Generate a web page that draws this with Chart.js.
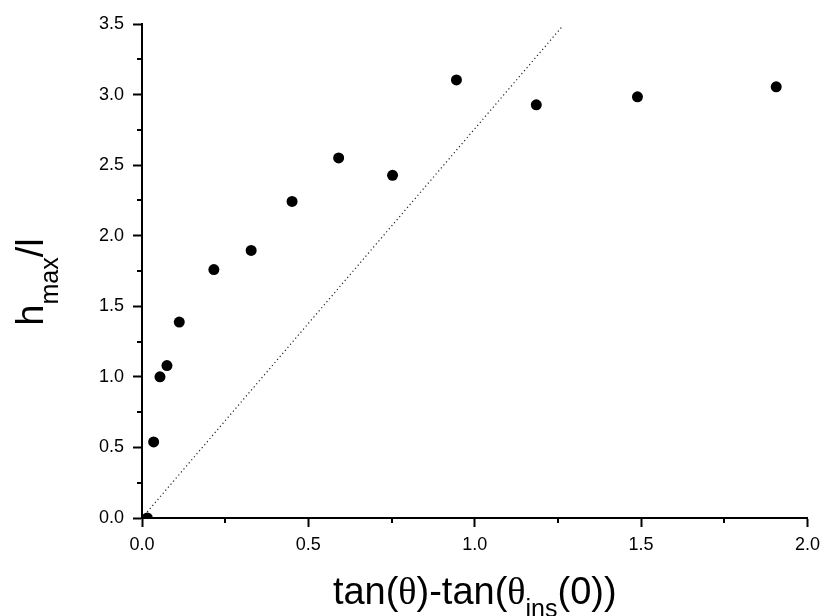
<!DOCTYPE html>
<html>
<head>
<meta charset="utf-8">
<script src="https://cdn.jsdelivr.net/npm/chart.js@4/dist/chart.umd.min.js"></script>
<style>
html,body{margin:0;padding:0;background:#fff;}
#wrap{width:827px;height:616px;}
</style>
</head>
<body>
<div id="wrap"><canvas id="c" width="827" height="616"></canvas></div>
<script>
// Measured points
const xVals = [0.016, 0.035, 0.054, 0.075, 0.112, 0.216, 0.328, 0.451, 0.591, 0.753, 0.945, 1.185, 1.489, 1.906];
const yVals = [0.0, 0.539, 1.0, 1.08, 1.388, 1.76, 1.896, 2.243, 2.551, 2.428, 3.104, 2.927, 2.984, 3.055];
// Dotted reference line endpoints
const lineX = [0.0, 1.262];
const lineY = [0.0, 3.48];
// Axis ranges / ticks
const xRange = [0.0, 2.0];
const yRange = [0.0, 3.5];
const xMajorStep = 0.5, yMajorStep = 0.5;
const xMinorStep = 0.25, yMinorStep = 0.25;

const FONT = '"Liberation Sans", Arial, sans-serif';
const SERIF = '"Liberation Serif", "Times New Roman", serif';

const scatterData = xVals.map((x, i) => ({x: x, y: yVals[i]}));
const lineData = lineX.map((x, i) => ({x: x, y: lineY[i]}));

const minorTicks = {
  id: 'minorTicks',
  afterDraw(chart) {
    const ctx = chart.ctx, xs = chart.scales.x, ys = chart.scales.y, a = chart.chartArea;
    ctx.save();
    ctx.strokeStyle = '#000';
    ctx.lineWidth = 2;
    ctx.beginPath();
    for (let v = xRange[0] + xMinorStep; v < xRange[1]; v += xMajorStep) {
      const px = Math.round(xs.getPixelForValue(v));
      ctx.moveTo(px, a.bottom); ctx.lineTo(px, a.bottom + 5);
    }
    for (let v = yRange[0] + yMinorStep; v < yRange[1]; v += yMajorStep) {
      const py = Math.round(ys.getPixelForValue(v));
      ctx.moveTo(a.left, py); ctx.lineTo(a.left - 5, py);
    }
    ctx.stroke();
    ctx.restore();
  }
};

function drawParts(ctx, parts) {
  let x = 0;
  for (const p of parts) {
    ctx.font = p.font;
    ctx.fillText(p.t, x, p.dy || 0);
    x += ctx.measureText(p.t).width;
  }
  return x;
}
function measureParts(ctx, parts) {
  let w = 0;
  for (const p of parts) { ctx.font = p.font; w += ctx.measureText(p.t).width; }
  return w;
}

const titles = {
  id: 'titles',
  afterDraw(chart) {
    const ctx = chart.ctx, a = chart.chartArea;
    const main = '38px ' + FONT, sym = '38px ' + SERIF, sub = '25px ' + FONT;
    ctx.save();
    ctx.fillStyle = '#000';
    ctx.textBaseline = 'alphabetic';
    ctx.textAlign = 'left';
    // X title
    const xp = [
      {t: 'tan(', font: main}, {t: 'θ', font: sym}, {t: ')-tan(', font: main},
      {t: 'θ', font: sym}, {t: 'ins', font: sub, dy: 13}, {t: '(0))', font: main}
    ];
    const wx = measureParts(ctx, xp);
    ctx.save();
    ctx.translate((a.left + a.right) / 2 - wx / 2, 604);
    drawParts(ctx, xp);
    ctx.restore();
    // Y title
    const yp = [
      {t: 'h', font: main}, {t: 'max', font: sub, dy: 15}, {t: '/l', font: main}
    ];
    const wy = measureParts(ctx, yp);
    ctx.save();
    ctx.translate(43, 282 + wy / 2);
    ctx.rotate(-Math.PI / 2);
    drawParts(ctx, yp);
    ctx.restore();
    ctx.restore();
  }
};

new Chart(document.getElementById('c'), {
  type: 'scatter',
  data: {
    datasets: [
      {
        data: lineData,
        showLine: true,
        borderColor: '#222',
        borderWidth: 1.2,
        borderDash: [1.2, 2.8],
        pointRadius: 0,
        fill: false,
        order: 2
      },
      {
        data: scatterData,
        backgroundColor: '#000',
        borderColor: '#000',
        pointRadius: 5.5,
        pointBorderWidth: 0,
        clip: 0,
        order: 1
      }
    ]
  },
  options: {
    responsive: false,
    animation: false,
    devicePixelRatio: 1,
    layout: {padding: {left: 0, top: 24, right: 19, bottom: 0}},
    plugins: {legend: {display: false}, tooltip: {enabled: false}},
    scales: {
      x: {
        type: 'linear',
        min: xRange[0], max: xRange[1],
        afterFit(s) { s.height = 98; },
        ticks: {
          stepSize: xMajorStep,
          color: '#000',
          font: {family: FONT, size: 18},
          padding: 7,
          maxRotation: 0,
          callback: v => Number(v).toFixed(1)
        },
        grid: {drawOnChartArea: false, drawTicks: true, tickLength: 9, tickColor: '#000', tickWidth: 2},
        border: {display: true, color: '#000', width: 2}
      },
      y: {
        type: 'linear',
        min: yRange[0], max: yRange[1],
        afterFit(s) { s.width = 142; },
        ticks: {
          stepSize: yMajorStep,
          color: '#000',
          font: {family: FONT, size: 18},
          padding: 9,
          callback: v => Number(v).toFixed(1)
        },
        grid: {drawOnChartArea: false, drawTicks: true, tickLength: 9, tickColor: '#000', tickWidth: 2},
        border: {display: true, color: '#000', width: 2}
      }
    }
  },
  plugins: [minorTicks, titles]
});
</script>
</body>
</html>
